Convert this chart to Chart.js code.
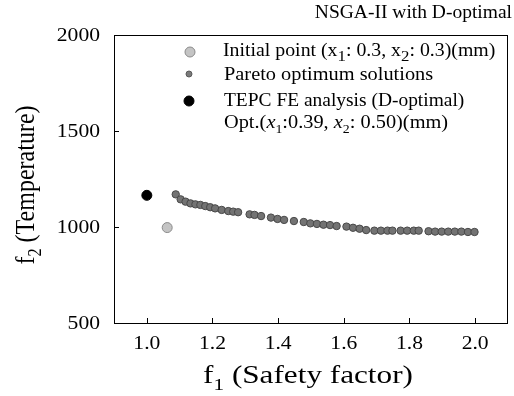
<!DOCTYPE html>
<html>
<head>
<meta charset="utf-8">
<script src="https://cdn.jsdelivr.net/npm/chart.js@4"></script>
<style>
  html, body { margin: 0; padding: 0; background: #fff; }
</style>
</head>
<body>
<canvas id="paretoChart" width="514" height="396"></canvas>
<script>
// values
const paretoF1 = [1.088, 1.103, 1.118, 1.133, 1.148, 1.163, 1.178, 1.193, 1.208, 1.228,
  1.248, 1.263, 1.278, 1.313, 1.328, 1.348, 1.378, 1.398, 1.418, 1.448,
  1.478, 1.498, 1.518, 1.538, 1.558, 1.578, 1.608, 1.628, 1.648, 1.668,
  1.693, 1.713, 1.733, 1.748, 1.773, 1.793, 1.813, 1.828, 1.858, 1.878,
  1.898, 1.918, 1.938, 1.958, 1.978, 1.998];
const paretoF2 = [1170, 1144, 1132, 1123, 1118, 1115, 1109, 1103, 1097, 1089,
  1083, 1080, 1077, 1066, 1063, 1057, 1049, 1042, 1037, 1031,
  1026, 1019, 1016, 1012, 1010, 1005, 1002, 996, 991, 984,
  981, 981, 981, 981, 981, 981, 981, 981, 978, 976,
  976, 976, 976, 976, 974, 974];
const initialPoint = [1.062, 997];
const optPoint = [1.0, 1165];

const xTicks = [1.0, 1.2, 1.4, 1.6, 1.8, 2.0];
const yTicks = [500, 1000, 1500, 2000];

const SERIF = '"Liberation Serif", "Times New Roman", serif';

// draws a run of text pieces; sub pieces sit lower and smaller
// sx stretches the text sideways (the reference text looks a bit wide)
function drawRich(ctx, x, y, parts, size, align, sx, subScale) {
  sx = sx || 1;
  subScale = subScale || 0.68;
  const fontOf = p => (p.it ? 'italic ' : '') + (p.sub ? size * subScale : size) + 'px ' + SERIF;
  ctx.save();
  ctx.translate(x, y);
  ctx.scale(sx, 1);
  ctx.fillStyle = '#000';
  ctx.textBaseline = 'alphabetic';
  ctx.textAlign = 'left';
  let total = 0;
  const widths = parts.map(p => {
    ctx.font = fontOf(p);
    const w = ctx.measureText(p.t).width;
    total += w;
    return w;
  });
  let cx = align === 'center' ? -total / 2 : align === 'right' ? -total : 0;
  parts.forEach((p, i) => {
    ctx.font = fontOf(p);
    ctx.fillText(p.t, cx, p.sub ? size * 0.25 : 0);
    cx += widths[i];
  });
  ctx.restore();
}

function dot(ctx, x, y, r, fill, stroke) {
  ctx.beginPath();
  ctx.arc(x, y, r, 0, Math.PI * 2);
  ctx.fillStyle = fill;
  ctx.fill();
  ctx.lineWidth = 1;
  ctx.strokeStyle = stroke;
  ctx.stroke();
}

const decor = {
  id: 'decor',
  afterDraw(chart) {
    const ctx = chart.ctx;
    const a = chart.chartArea;
    const xs = chart.scales.x, ys = chart.scales.y;
    ctx.save();
    ctx.strokeStyle = '#000';
    ctx.lineWidth = 1;
    ctx.strokeRect(a.left + 0.5, a.top + 0.5, a.right - a.left - 1, a.bottom - a.top);

    // inward tick marks and labels
    ctx.beginPath();
    xTicks.forEach(v => {
      const px = Math.round(xs.getPixelForValue(v)) + 0.5;
      ctx.moveTo(px, a.bottom);
      ctx.lineTo(px, a.bottom - 5);
    });
    yTicks.forEach(v => {
      const py = Math.round(ys.getPixelForValue(v)) + 0.5;
      ctx.moveTo(a.left, py);
      ctx.lineTo(a.left + 5, py);
    });
    ctx.stroke();
    xTicks.forEach(v => {
      drawRich(ctx, xs.getPixelForValue(v), a.bottom + 26, [{ t: v.toFixed(1) }], 18, 'center', 1.2);
    });
    yTicks.forEach(v => {
      drawRich(ctx, a.left - 14, ys.getPixelForValue(v) + 6, [{ t: String(v) }], 18, 'right', 1.2);
    });

    // axis titles
    drawRich(ctx, 308, 383, [{ t: 'f' }, { t: '1', sub: true }, { t: ' (Safety factor)' }], 26, 'center', 1.2);
    ctx.save();
    ctx.translate(34, 185);
    ctx.rotate(-Math.PI / 2);
    ctx.scale(1, 1.15);
    drawRich(ctx, 0, 0, [{ t: 'f' }, { t: '2', sub: true }, { t: ' (Temperature)' }], 24, 'center', 1);
    ctx.restore();

    // header
    drawRich(ctx, 512, 18, [{ t: 'NSGA-II with D-optimal' }], 19.5, 'right', 1);

    // legend
    dot(ctx, 190, 52, 5, '#c4c4c4', '#8a8a8a');
    drawRich(ctx, 223, 56, [{ t: 'Initial point (x' }, { t: '1', sub: true }, { t: ': 0.3, x' }, { t: '2', sub: true }, { t: ': 0.3)(mm)' }], 18.2, 'left', 1.09, 0.85);
    dot(ctx, 189, 74, 3, '#7a7a7a', '#5a5a5a');
    drawRich(ctx, 224, 80, [{ t: 'Pareto optimum solutions' }], 18.5, 'left', 1.1);
    dot(ctx, 189, 101, 5, '#000', '#000');
    drawRich(ctx, 224, 106, [{ t: 'TEPC FE analysis (D-optimal)' }], 18, 'left', 1.08);
    drawRich(ctx, 224, 128, [{ t: 'Opt.(' }, { t: 'x', it: true }, { t: '1', sub: true }, { t: ':0.39, ' }, { t: 'x', it: true }, { t: '2', sub: true }, { t: ': 0.50)(mm)' }], 18.5, 'left', 1.1);
    ctx.restore();
  }
};

const ctx = document.getElementById('paretoChart').getContext('2d');
const paretoChart = new Chart(ctx, {
  type: 'scatter',
  data: {
    datasets: [{
      label: 'Pareto optimum solutions',
      data: paretoF1.map((v, i) => ({ x: v, y: paretoF2[i] })),
      backgroundColor: '#737373',
      borderColor: '#484848',
      borderWidth: 1,
      pointRadius: 3.7
    }, {
      label: 'Initial point',
      data: [{ x: initialPoint[0], y: initialPoint[1] }],
      backgroundColor: '#c4c4c4',
      borderColor: '#8a8a8a',
      borderWidth: 1,
      pointRadius: 5
    }, {
      label: 'TEPC FE analysis (D-optimal)',
      data: [{ x: optPoint[0], y: optPoint[1] }],
      backgroundColor: '#000000',
      borderColor: '#000000',
      borderWidth: 1,
      pointRadius: 5
    }]
  },
  options: {
    responsive: false,
    animation: false,
    layout: { padding: { top: 35, right: 1, left: 0, bottom: 0 } },
    scales: {
      x: {
        type: 'linear',
        min: 0.9,
        max: 2.1,
        grid: { display: false },
        border: { display: false },
        ticks: { display: false },
        afterFit(scale) { scale.height = 73; }
      },
      y: {
        type: 'linear',
        min: 500,
        max: 2000,
        grid: { display: false },
        border: { display: false },
        ticks: { display: false },
        afterFit(scale) { scale.width = 114; }
      }
    },
    plugins: {
      legend: { display: false },
      tooltip: { enabled: false }
    }
  },
  plugins: [decor]
});
</script>
</body>
</html>
